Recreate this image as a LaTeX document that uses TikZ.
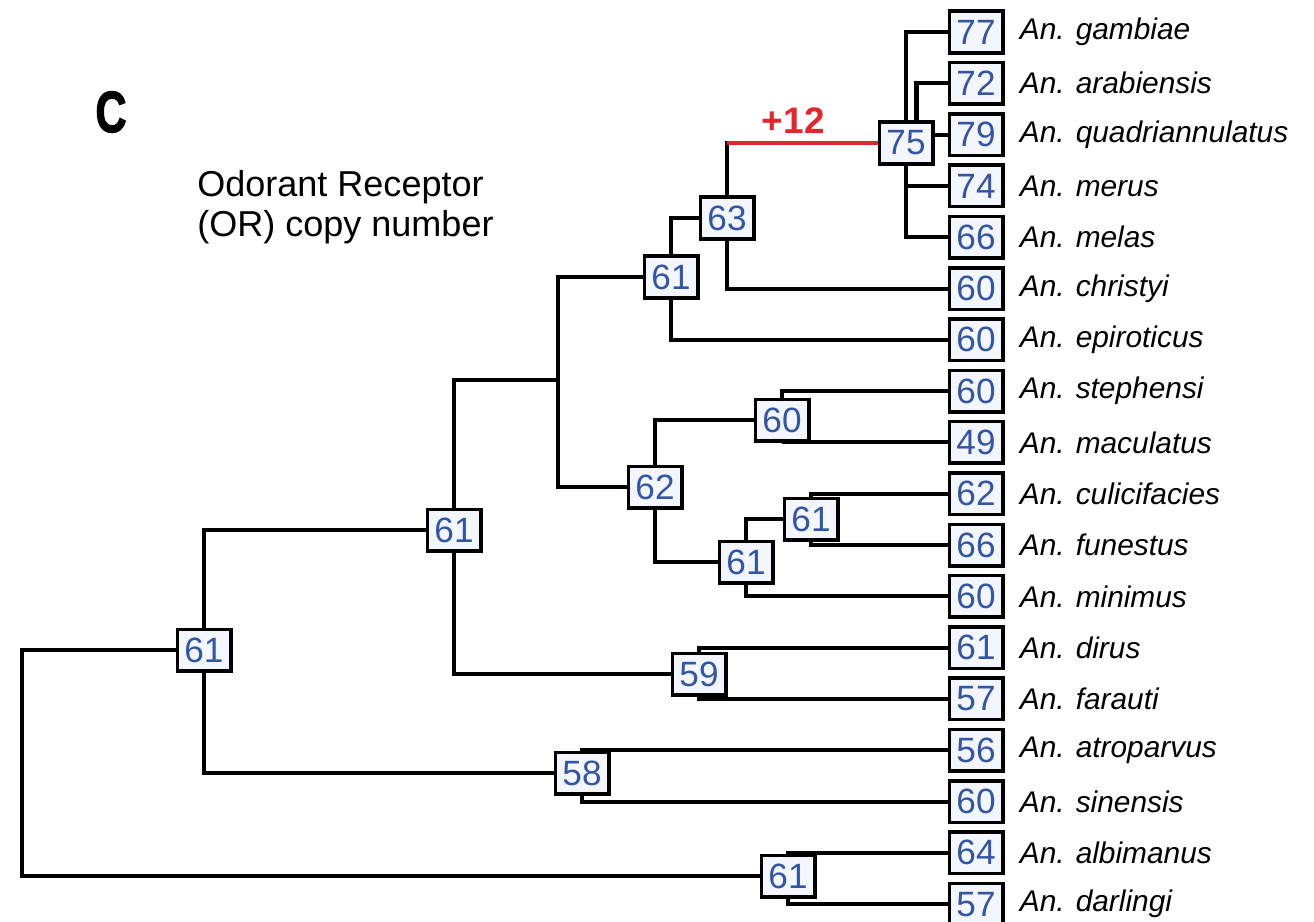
\documentclass[tikz,border=0pt]{standalone}
\usepackage{fontspec}
\setmainfont{Liberation Sans}
\newfontfamily\panelfont[FakeBold=2.5]{Liberation Sans Bold}
\usetikzlibrary{positioning}
\definecolor{numblue}{HTML}{3355A5}
\definecolor{boxfill}{HTML}{F3F6FC}
\definecolor{gainred}{HTML}{E3262B}

\begin{document}
\begin{tikzpicture}[
        x=0.02cm, y=-0.02cm,
        node distance=0.126cm and 0.3cm,
        count/.style={rectangle, draw, line width=2pt, fill=boxfill, text=numblue, minimum width=1.07cm, minimum height=0.83cm, inner sep=0pt, font=\fontsize{20}{20}\selectfont},
        species/.style={inner sep=0pt, font=\fontsize{17}{17}\selectfont\itshape},
        branch/.style={line width=2.3pt},
        gain/.style={line width=2.3pt, draw=gainred}
    ]
        \useasboundingbox (0,0) rectangle (1314,922);

        % Panel and title
        \node (panel) at (111,112) {\fontsize{33}{33}\selectfont\panelfont\scalebox{0.74}[1]{C}};
        \node (title) [anchor=north west, align=left, inner sep=0pt, font=\fontsize{20.5}{23}\selectfont] at (197,170) {Odorant Receptor\\(OR) copy number};

        % Leaves
        \node (l1) [count] at (976,32) {77};
        \node (l2) [count, below=of l1] {72};
        \node (l3) [count, below=of l2] {79};
        \node (l4) [count, below=of l3] {74};
        \node (l5) [count, below=of l4] {66};
        \node (l6) [count, below=of l5] {60};
        \node (l7) [count, below=of l6] {60};
        \node (l8) [count, below=of l7] {60};
        \node (l9) [count, below=of l8] {49};
        \node (l10) [count, below=of l9] {62};
        \node (l11) [count, below=of l10] {66};
        \node (l12) [count, below=of l11] {60};
        \node (l13) [count, below=of l12] {61};
        \node (l14) [count, below=of l13] {57};
        \node (l15) [count, below=of l14] {56};
        \node (l16) [count, below=of l15] {60};
        \node (l17) [count, below=of l16] {64};
        \node (l18) [count, below=of l17] {57};

        % Species names
        \node (s1) [species, right=of l1] {An. gambiae};
        \node (s2) [species, right=of l2] {An. arabiensis};
        \node (s3) [species, right=of l3] {An. quadriannulatus};
        \node (s4) [species, right=of l4] {An. merus};
        \node (s5) [species, right=of l5] {An. melas};
        \node (s6) [species, right=of l6] {An. christyi};
        \node (s7) [species, right=of l7] {An. epiroticus};
        \node (s8) [species, right=of l8] {An. stephensi};
        \node (s9) [species, right=of l9] {An. maculatus};
        \node (s10) [species, right=of l10] {An. culicifacies};
        \node (s11) [species, right=of l11] {An. funestus};
        \node (s12) [species, right=of l12] {An. minimus};
        \node (s13) [species, right=of l13] {An. dirus};
        \node (s14) [species, right=of l14] {An. farauti};
        \node (s15) [species, right=of l15] {An. atroparvus};
        \node (s16) [species, right=of l16] {An. sinensis};
        \node (s17) [species, right=of l17] {An. albimanus};
        \node (s18) [species, right=of l18] {An. darlingi};

        % Ancestral nodes
        \node (n75) [count] at (906,143) {75};
        \node (n63) [count] at (727,218) {63};
        \node (n61c) [count] at (671,277) {61};
        \node (n62) [count] at (655,487) {62};
        \node (n60) [count] at (782,420) {60};
        \node (n61e) [count] at (746,562) {61};
        \node (n61d) [count] at (811,519) {61};
        \node (n61b) [count] at (454,530) {61};
        \node (n59) [count] at (699,674) {59};
        \node (n61a) [count] at (204,650) {61};
        \node (n58) [count] at (582,773) {58};
        \node (n61f) [count] at (788,876) {61};
        \coordinate (root) at (22,763);
        \coordinate (j1) at (558,380);
        \coordinate (c63) at (n63 |- n75);

        % Branches
        \draw [branch] (root) |- (n61a);
        \draw [branch] (root) |- (n61f);
        \draw [branch] (n61a) |- (n61b);
        \draw [branch] (n61a) |- (n58);
        \draw [branch] (n61b) |- (j1);
        \draw [branch] (n61b) |- (n59);
        \draw [branch] (j1) |- (n61c);
        \draw [branch] (j1) |- (n62);
        \draw [branch] (n61c) |- (n63);
        \draw [branch] (n61c) |- (l7);
        \draw [branch, line cap=rect] (n63) -- (c63);
        \draw [gain] (c63) -- node (g12) [above=1pt, pos=0.44, text=gainred, font=\fontsize{21}{21}\selectfont\bfseries] {+12} (n75);
        \draw [branch] (n63) |- (l6);
        \draw [branch] (n75) |- (l1);
        \draw [branch] (n75.65) |- (l2);
        \draw [branch] (n75.east |- l3) -- (l3);
        \draw [branch] (n75) |- (l4);
        \draw [branch] (n75) |- (l5);
        \draw [branch] (n62) |- (n60);
        \draw [branch] (n62) |- (n61e);
        \draw [branch] (n60) |- (l8);
        \draw [branch] (n60) |- (l9);
        \draw [branch] (n61e) |- (n61d);
        \draw [branch] (n61e) |- (l12);
        \draw [branch] (n61d) |- (l10);
        \draw [branch] (n61d) |- (l11);
        \draw [branch] (n59) |- (l13);
        \draw [branch] (n59) |- (l14);
        \draw [branch] (n58) |- (l15);
        \draw [branch] (n58) |- (l16);
        \draw [branch] (n61f) |- (l17);
        \draw [branch] (n61f) |- (l18);
    \end{tikzpicture}
\end{document}
